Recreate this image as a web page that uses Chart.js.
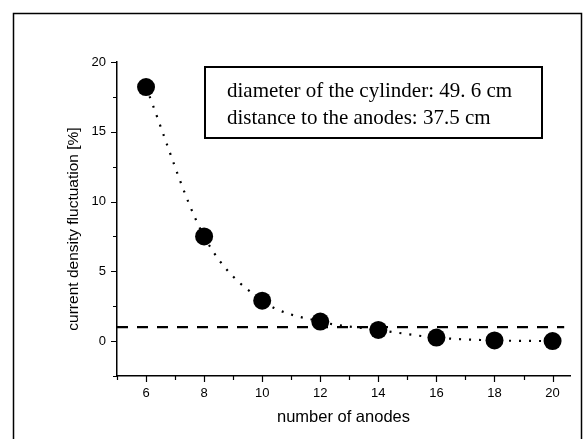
<!DOCTYPE html>
<html>
<head>
<meta charset="utf-8">
<script src="https://cdn.jsdelivr.net/npm/chart.js@4"></script>
<style>
  html, body { margin: 0; padding: 0; background: #fff; }
  #wrap { width: 587px; height: 439px; }
</style>
</head>
<body>
<div id="wrap"><canvas id="fluctChart"></canvas></div>
<script>
// measured points
const anodes = [6, 8, 10, 12, 14, 16, 18, 20];
const fluctuation = [18.2, 7.5, 2.9, 1.4, 0.8, 0.25, 0.05, 0.0];
// 1 % limit line
const limitX = [5, 20.4];
const limitY = [1, 1];
// labelled ticks
const xTickLabels = [6, 8, 10, 12, 14, 16, 18, 20];
const yTickLabels = [0, 5, 10, 15, 20];
const noteLines = ['diameter of the cylinder: 49. 6 cm', 'distance to the anodes: 37.5 cm'];

const sans = '"Liberation Sans", Arial, sans-serif';
const serif = '"Liberation Serif", "Times New Roman", serif';

const points = anodes.map((x, i) => ({ x: x, y: fluctuation[i] }));
const limit = limitX.map((x, i) => ({ x: x, y: limitY[i] }));

const decor = {
  id: 'decor',
  afterDraw(chart) {
    const ctx = chart.ctx;
    const xs = chart.scales.x, ys = chart.scales.y;
    ctx.save();
    ctx.strokeStyle = '#000';

    // outer frame
    ctx.lineWidth = 1.5;
    ctx.strokeRect(13.5, 13.5, 568, 440);

    // ticks, outward, major + minor
    ctx.lineWidth = 1.2;
    ctx.beginPath();
    for (let v = 5; v <= 20; v++) {
      const px = Math.round(xs.getPixelForValue(v)) + 0.5;
      const len = v % 2 === 0 ? 6 : 4;
      ctx.moveTo(px, ys.bottom);
      ctx.lineTo(px, ys.bottom + len);
    }
    for (let v = -2.5; v <= 20; v += 2.5) {
      const py = Math.round(ys.getPixelForValue(v)) + 0.5;
      const len = v % 5 === 0 ? 6 : 4;
      ctx.moveTo(xs.left, py);
      ctx.lineTo(xs.left - len, py);
    }
    ctx.stroke();

    // y axis title
    ctx.fillStyle = '#000';
    ctx.font = '15.5px ' + sans;
    ctx.textAlign = 'center';
    ctx.textBaseline = 'middle';
    ctx.translate(74, 229);
    ctx.rotate(-Math.PI / 2);
    ctx.fillText('current density fluctuation [%]', 0, 0);
    ctx.setTransform(1, 0, 0, 1, 0, 0);

    // note box
    ctx.lineWidth = 2;
    ctx.strokeRect(205, 67, 337, 71);
    ctx.font = '21px ' + serif;
    ctx.textAlign = 'left';
    ctx.textBaseline = 'alphabetic';
    ctx.fillText(noteLines[0], 227, 97);
    ctx.fillText(noteLines[1], 227, 123.5);
    ctx.restore();
  }
};

new Chart(document.getElementById('fluctChart'), {
  type: 'scatter',
  data: {
    datasets: [{
      label: 'measured',
      data: points,
      backgroundColor: '#000',
      borderColor: '#000',
      pointRadius: 9,
      pointBorderWidth: 0,
      showLine: false
    }, {
      label: 'fit',
      data: points,
      showLine: true,
      borderColor: '#000',
      borderWidth: 2.2,
      borderDash: [2, 8],
      cubicInterpolationMode: 'monotone',
      pointRadius: 0
    }, {
      label: 'limit',
      data: limit,
      showLine: true,
      borderColor: '#000',
      borderWidth: 2.3,
      borderDash: [11, 9],
      pointRadius: 0
    }]
  },
  options: {
    responsive: true,
    maintainAspectRatio: false,
    animation: false,
    layout: { padding: { left: 0, top: 62, right: 17, bottom: 0 } },
    plugins: {
      legend: { display: false },
      tooltip: { enabled: false }
    },
    scales: {
      x: {
        type: 'linear',
        min: 5,
        max: 20.6,
        afterFit(scale) { scale.height = 63; },
        afterBuildTicks(scale) {
          const t = [];
          for (let v = 5; v <= 20; v++) t.push({ value: v });
          scale.ticks = t;
        },
        grid: { display: false, drawTicks: false },
        border: { display: true, color: '#000', width: 1.5 },
        ticks: {
          padding: 10,
          color: '#000',
          font: { family: sans, size: 13 },
          maxRotation: 0,
          autoSkip: false,
          callback: (v) => xTickLabels.includes(v) ? String(v) : ''
        },
        title: {
          display: true,
          text: 'number of anodes',
          color: '#000',
          font: { family: sans, size: 16.5 },
          padding: { top: 0, bottom: 12 }
        }
      },
      y: {
        type: 'linear',
        min: -2.5,
        max: 20,
        afterFit(scale) { scale.width = 117; },
        grid: { display: false, drawTicks: false },
        border: { display: true, color: '#000', width: 1.5 },
        ticks: {
          stepSize: 2.5,
          padding: 11,
          color: '#000',
          font: { family: sans, size: 13 },
          autoSkip: false,
          callback: (v) => yTickLabels.includes(v) ? String(v) : ''
        }
      }
    }
  },
  plugins: [decor]
});
</script>
</body>
</html>
